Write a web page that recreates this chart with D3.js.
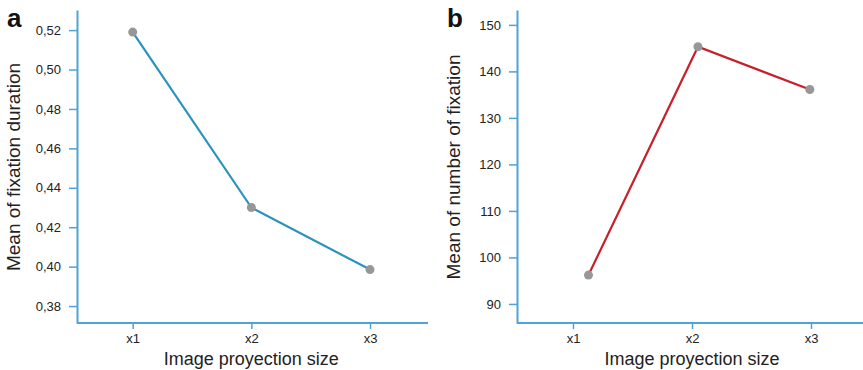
<!DOCTYPE html>
<html>
<head>
<meta charset="utf-8">
<script src="https://cdn.jsdelivr.net/npm/d3@7"></script>
<style>
  body { margin: 0; background: #fff; }
  text { font-family: "Liberation Sans", Arial, sans-serif; fill: #222; }
</style>
</head>
<body>
<svg id="chart" width="863" height="370"></svg>
<script>
// data
var categories = ["x1", "x2", "x3"];
var durationValues = [0.519, 0.430, 0.3985];
var durationXPos = [1, 2, 3];
var durationTicks = [0.38, 0.40, 0.42, 0.44, 0.46, 0.48, 0.50, 0.52];
var fixationValues = [96.2, 145.3, 136.1];
var fixationXPos = [1.13, 2.05, 2.99];
var fixationTicks = [90, 100, 110, 120, 130, 140, 150];

var commaLocale = d3.formatLocale({decimal: ",", thousands: ".", grouping: [3], currency: ["", ""]});

var svg = d3.select("#chart");
var axisColor = "#4ea3d8";

var drawPanel = function(cfg) {
  var g = svg.append("g");
  var x = d3.scaleLinear().domain([1, 3]).range(cfg.xRange);
  var y = d3.scaleLinear().domain(cfg.yDomain).range([323, 10]);

  // y axis
  var yAxis = g.append("g")
    .attr("transform", "translate(" + cfg.left + ",0)")
    .call(d3.axisLeft(y).tickValues(cfg.ticks).tickSize(8).tickSizeOuter(0).tickPadding(8).tickFormat(cfg.fmt));
  // x axis
  var xAxis = g.append("g")
    .attr("transform", "translate(0,323)")
    .call(d3.axisBottom(x).tickValues([1, 2, 3]).tickSize(6).tickSizeOuter(0).tickPadding(5)
      .tickFormat(function(d){ return categories[d - 1]; }));
  xAxis.select(".domain").attr("d", "M" + cfg.left + ",0H" + cfg.right);

  [yAxis, xAxis].forEach(function(a){
    a.select(".domain").attr("stroke", axisColor).attr("stroke-width", 2);
    a.selectAll(".tick line").attr("stroke", axisColor).attr("stroke-width", 1.5);
    a.selectAll(".tick text").attr("font-size", 13).style("fill", "#222");
  });

  var pts = cfg.values.map(function(v, i){ return [cfg.xPos[i], v]; });
  g.append("path")
    .datum(pts)
    .attr("fill", "none")
    .attr("stroke", cfg.color)
    .attr("stroke-width", 2.2)
    .attr("d", d3.line().x(function(d){ return x(d[0]); }).y(function(d){ return y(d[1]); }));

  g.selectAll("circle").data(pts).enter().append("circle")
    .attr("cx", function(d){ return x(d[0]); })
    .attr("cy", function(d){ return y(d[1]); })
    .attr("r", 4.5)
    .attr("fill", "#979797");

  g.append("text")
    .attr("x", (cfg.xRange[0] + cfg.xRange[1]) / 2)
    .attr("y", 365)
    .attr("text-anchor", "middle")
    .attr("font-size", 18)
    .text("Image proyection size");

  g.append("text")
    .attr("transform", "translate(" + (cfg.left - 57) + ",167) rotate(-90)")
    .attr("text-anchor", "middle")
    .attr("font-size", 19)
    .text(cfg.yTitle);

  g.append("text")
    .attr("x", cfg.left - 70)
    .attr("y", 27)
    .attr("font-size", 26)
    .attr("font-weight", "bold")
    .style("fill", "#111")
    .text(cfg.letter);
};

drawPanel({
  letter: "a", left: 77, right: 428,
  xRange: [132.7, 370], xPos: durationXPos, values: durationValues,
  yDomain: [0.3714, 0.5302], ticks: durationTicks,
  fmt: commaLocale.format(".2f"),
  color: "#2a93bd", yTitle: "Mean of fixation duration"
});

drawPanel({
  letter: "b", left: 517, right: 863,
  xRange: [573, 811], xPos: fixationXPos, values: fixationValues,
  yDomain: [85.9, 153.2], ticks: fixationTicks,
  fmt: d3.format("d"),
  color: "#c8202a", yTitle: "Mean of number of fixation"
});
</script>
</body>
</html>
